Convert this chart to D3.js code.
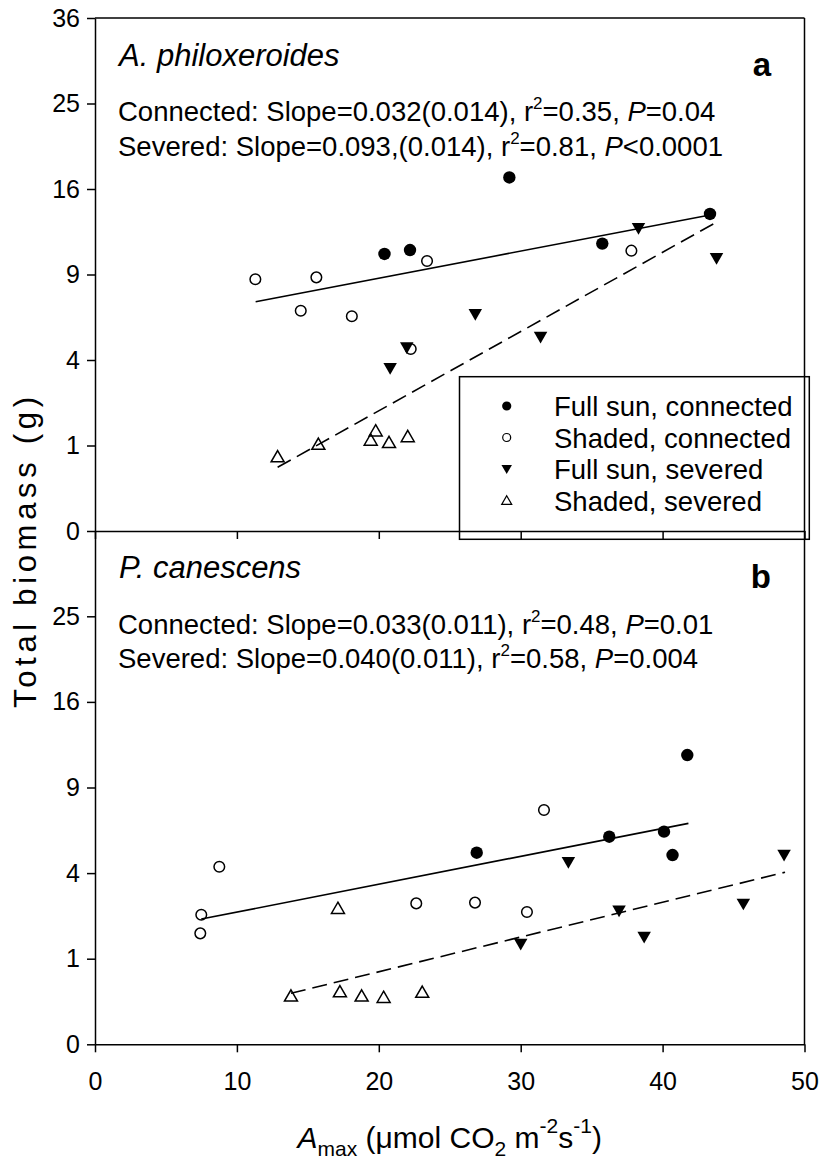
<!DOCTYPE html>
<html><head><meta charset="utf-8">
<script src="https://cdn.jsdelivr.net/npm/d3@7"></script>
<style>
body{margin:0;background:#fff;}
svg{display:block;}
text{font-family:"Liberation Sans",Arial,Helvetica,sans-serif;fill:#000;}
</style>
</head><body>
<svg id="chart" width="824" height="1165"></svg>
<script>
// ---------------- data ----------------
const xTicks = [0, 10, 20, 30, 40, 50];
const yTicksA = [0, 1, 4, 9, 16, 25, 36];
const yTicksB = [0, 1, 4, 9, 16, 25];

const legendLabels = ["Full sun, connected", "Shaded, connected", "Full sun, severed", "Shaded, severed"];
const panelTitles = ["A. philoxeroides", "P. canescens"];
const panelLetters = ["a", "b"];

// Panel a (A. philoxeroides)
const aSunConnX = [20.4, 22.2, 29.2, 35.75, 43.34];
const aSunConnY = [10.5, 10.8, 17.1, 11.3, 13.75];
const aShadeConnX = [11.3, 15.6, 14.5, 18.1, 23.4, 22.25, 37.8];
const aShadeConnY = [8.67, 8.8, 6.64, 6.31, 9.97, 4.53, 10.75];
const aSunSevX = [20.8, 21.97, 26.8, 31.4, 38.3, 43.8];
const aSunSevY = [3.62, 4.6, 6.42, 5.15, 12.53, 10.17];
const aShadeSevX = [12.87, 15.74, 19.43, 19.78, 20.72, 22.04];
const aShadeSevY = [0.755, 1.03, 1.13, 1.37, 1.07, 1.22];
const aConnLineX = [11.32, 43.34];
const aConnLineY = [7.19, 13.66];
const aSevLineX = [12.87, 43.77];
const aSevLineY = [0.555, 13.03];
const aStatsConn = ["Connected: Slope=0.032(0.014), r", "2", "=0.35, ", "P", "=0.04"];
const aStatsSev = ["Severed: Slope=0.093,(0.014), r", "2", "=0.81, ", "P", "<0.0001"];

// Panel b (P. canescens)
const bSunConnX = [26.9, 36.24, 40.1, 40.7, 41.74];
const bSunConnY = [5.01, 5.88, 6.17, 4.89, 11.42];
const bShadeConnX = [7.42, 7.49, 8.76, 22.64, 26.78, 30.44, 31.64];
const bShadeConnY = [1.68, 2.29, 4.30, 2.71, 2.74, 2.39, 7.49];
const bSunSevX = [30.0, 33.36, 36.93, 38.7, 45.69, 48.56];
const bSunSevY = [1.37, 4.52, 2.43, 1.57, 2.69, 4.89];
const bShadeSevX = [13.81, 17.12, 17.26, 18.79, 20.34, 23.06];
const bShadeSevY = [0.318, 2.52, 0.377, 0.318, 0.30, 0.369];
const bConnLineX = [7.49, 41.82];
const bConnLineY = [2.14, 6.66];
const bSevLineX = [13.81, 48.63];
const bSevLineY = [0.355, 4.04];
const bStatsConn = ["Connected: Slope=0.033(0.011), r", "2", "=0.48, ", "P", "=0.01"];
const bStatsSev = ["Severed: Slope=0.040(0.011), r", "2", "=0.58, ", "P", "=0.004"];

// ---------------- drawing ----------------
const svg = d3.select("#chart");
const X0 = 95, X1 = 804.5;
const x = d3.scaleLinear().domain([0, 50]).range([X0, X1]);
const yA = d3.scaleSqrt().domain([0, 36]).range([531, 18]);
const yB = d3.scaleSqrt().domain([0, 36]).range([1044.3, 530.7]);

const zip = (xs, ys) => xs.map((v, i) => ({x: v, y: ys[i]}));

const panels = [
  {y: yA, ticks: yTicksA, title: panelTitles[0], letter: panelLetters[0],
   sunConn: zip(aSunConnX, aSunConnY), shadeConn: zip(aShadeConnX, aShadeConnY),
   sunSev: zip(aSunSevX, aSunSevY), shadeSev: zip(aShadeSevX, aShadeSevY),
   connLine: zip(aConnLineX, aConnLineY), sevLine: zip(aSevLineX, aSevLineY),
   stats: [aStatsConn, aStatsSev], xLabels: false},
  {y: yB, ticks: yTicksB, title: panelTitles[1], letter: panelLetters[1],
   sunConn: zip(bSunConnX, bSunConnY), shadeConn: zip(bShadeConnX, bShadeConnY),
   sunSev: zip(bSunSevX, bSunSevY), shadeSev: zip(bShadeSevX, bShadeSevY),
   connLine: zip(bConnLineX, bConnLineY), sevLine: zip(bSevLineX, bSevLineY),
   stats: [bStatsConn, bStatsSev], xLabels: true}
];

function triUp(s) { const h = s * 0.866; return `M0,${-h*0.55}L${s/2},${h*0.45}L${-s/2},${h*0.45}Z`; }
function triDown(s) { const h = s * 0.866; return `M0,${h*0.55}L${s/2},${-h*0.45}L${-s/2},${-h*0.45}Z`; }

function styleAxis(g, fs) {
  g.selectAll("path.domain").attr("stroke", "#000").attr("stroke-width", 1.5);
  g.selectAll(".tick line").attr("stroke", "#000").attr("stroke-width", 1.5);
  g.selectAll(".tick text").attr("font-size", fs).attr("font-family", '"Liberation Sans",Arial,sans-serif').attr("fill", "#000");
}

function statText(g, xp, yp, parts) {
  const t = g.append("text").attr("x", xp).attr("y", yp).attr("font-size", 27.5);
  t.append("tspan").text(parts[0]);
  t.append("tspan").attr("font-size", 17).attr("dy", -12).text(parts[1]);
  t.append("tspan").attr("dy", 12).text(parts[2]);
  t.append("tspan").attr("font-style", "italic").text(parts[3]);
  t.append("tspan").text(parts[4]);
}

panels.forEach((p, i) => {
  const g = svg.append("g");
  const [yBot, yTop] = p.y.range();

  // regression lines
  const line = d3.line().x(d => x(d.x)).y(d => p.y(d.y));
  g.append("path").attr("d", line(p.connLine)).attr("fill", "none").attr("stroke", "#000").attr("stroke-width", 1.6);
  g.append("path").attr("d", line(p.sevLine)).attr("fill", "none").attr("stroke", "#000").attr("stroke-width", 1.6)
    .attr("stroke-dasharray", "15,7");

  // points
  g.selectAll(".sc").data(p.sunConn).join("circle")
    .attr("cx", d => x(d.x)).attr("cy", d => p.y(d.y)).attr("r", 6.2).attr("fill", "#000");
  g.selectAll(".shc").data(p.shadeConn).join("circle")
    .attr("cx", d => x(d.x)).attr("cy", d => p.y(d.y)).attr("r", 5.3)
    .attr("fill", "none").attr("stroke", "#000").attr("stroke-width", 1.5);
  g.selectAll(".ss").data(p.sunSev).join("path")
    .attr("transform", d => `translate(${x(d.x)},${p.y(d.y)})`).attr("d", triDown(13.5)).attr("fill", "#000");
  g.selectAll(".shs").data(p.shadeSev).join("path")
    .attr("transform", d => `translate(${x(d.x)},${p.y(d.y)})`).attr("d", triUp(13))
    .attr("fill", "none").attr("stroke", "#000").attr("stroke-width", 1.5);

  // axes
  const ya = g.append("g").attr("transform", `translate(${X0},0)`)
    .call(d3.axisLeft(p.y).tickValues(p.ticks).tickFormat(d3.format("d")).tickSize(8).tickSizeOuter(0).tickPadding(7));
  styleAxis(ya, 25);
  const xa = g.append("g").attr("transform", `translate(0,${yBot})`)
    .call(d3.axisBottom(x).tickValues(xTicks).tickSize(8).tickSizeOuter(0).tickPadding(20)
      .tickFormat(p.xLabels ? d3.format("d") : () => ""));
  styleAxis(xa, 25);
  // right border
  g.append("line").attr("x1", X1).attr("x2", X1).attr("y1", yTop).attr("y2", yBot)
    .attr("stroke", "#000").attr("stroke-width", 1.5);
  if (i === 0) {
    g.append("line").attr("x1", X0).attr("x2", X1).attr("y1", yTop).attr("y2", yTop)
      .attr("stroke", "#000").attr("stroke-width", 1.5);
  }

  // titles and stats
  g.append("text").attr("x", 119).attr("y", yTop + 47.5).attr("font-size", 31).attr("font-style", "italic").text(p.title);
  g.append("text").attr("x", 771).attr("y", yTop + 57.5).attr("font-size", 33).attr("font-weight", "bold")
    .attr("text-anchor", "end").text(p.letter);
  statText(g, 118, yTop + 103, p.stats[0]);
  statText(g, 118, yTop + 137.5, p.stats[1]);
});

// legend (panel a)
const lg = svg.append("g");
lg.append("rect").attr("x", 459.5).attr("y", 376.7).attr("width", 349.8).attr("height", 162.6)
  .attr("fill", "none").attr("stroke", "#000").attr("stroke-width", 1.5);
const legRowY = d3.scaleLinear().domain([0, 3]).range([406, 500.5]);
legendLabels.forEach((lab, k) => {
  const cy = legRowY(k), cx = 506.7;
  if (k === 0) lg.append("circle").attr("cx", cx).attr("cy", cy).attr("r", 4.6).attr("fill", "#000");
  if (k === 1) lg.append("circle").attr("cx", cx).attr("cy", cy).attr("r", 4).attr("fill", "none").attr("stroke", "#000").attr("stroke-width", 1.2);
  if (k === 2) lg.append("path").attr("transform", `translate(${cx},${cy})`).attr("d", triDown(10.5)).attr("fill", "#000");
  if (k === 3) lg.append("path").attr("transform", `translate(${cx},${cy})`).attr("d", triUp(10)).attr("fill", "none").attr("stroke", "#000").attr("stroke-width", 1.2);
  lg.append("text").attr("x", 554).attr("y", cy + 10).attr("font-size", 27.5).text(lab);
});

// axis titles
const yl = svg.append("text").attr("transform", "translate(36,552.5) rotate(-90)")
  .attr("text-anchor", "middle").attr("font-size", 31)
  .attr("textLength", 311).attr("lengthAdjust", "spacing").text("Total biomass (g)");

const xl = svg.append("text").attr("x", (X0 + X1) / 2).attr("y", 1148).attr("text-anchor", "middle").attr("font-size", 30);
xl.append("tspan").attr("font-style", "italic").text("A");
xl.append("tspan").attr("font-size", 21).attr("dy", 8).text("max");
xl.append("tspan").attr("dy", -8).text(" (\u03bcmol CO");
xl.append("tspan").attr("font-size", 21).attr("dy", 8).text("2");
xl.append("tspan").attr("dy", -8).text(" m");
xl.append("tspan").attr("font-size", 21).attr("dy", -15).text("-2");
xl.append("tspan").attr("dy", 15).text("s");
xl.append("tspan").attr("font-size", 21).attr("dy", -15).text("-1");
xl.append("tspan").attr("dy", 15).text(")");
</script>
</body></html>
